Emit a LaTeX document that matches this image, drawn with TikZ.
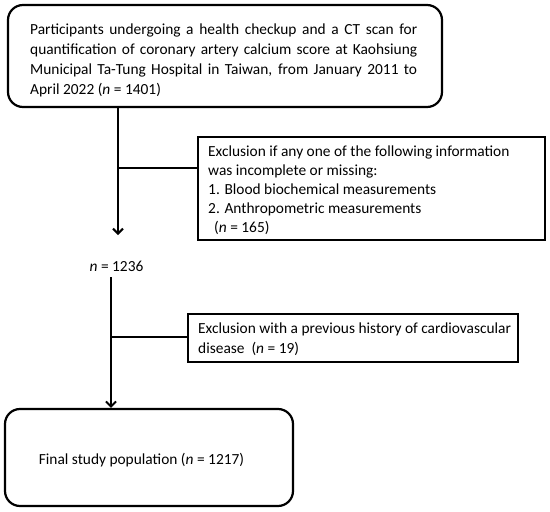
\documentclass[tikz,border=0pt]{standalone}
\usepackage{fontspec}
\setmainfont{Carlito}
\usetikzlibrary{arrows.meta}
\begin{document}
\begin{tikzpicture}[x=1pt,y=-1pt,
  font=\fontsize{15.4}{18.8}\selectfont,
  roundbox/.style={draw, line width=2.2pt, rounded corners=15pt, inner sep=0pt, anchor=center},
  exbox/.style={draw, line width=1.2pt, inner sep=0pt, anchor=center},
  conn/.style={line width=2pt},
  arr/.style={line width=2pt, -{Straight Barb[length=5pt,width=10pt,line width=2pt]}}]
\useasboundingbox (0,0) rectangle (550,512);
\node[roundbox, minimum width=434pt, minimum height=102pt] (top) at (225,56) {};
\node[anchor=north west, inner sep=0pt, align=left, font=\fontsize{15.4}{19.8}\selectfont] (toptext) at (30,24) {%
\makebox[387pt][s]{Participants undergoing a health checkup and a CT scan for}\\
\makebox[387pt][s]{quantification of coronary artery calcium score at Kaohsiung}\\
\makebox[387pt][s]{Municipal Ta-Tung Hospital in Taiwan, from January 2011 to}\\
April 2022 (\textit{n} = 1401)};
\node[exbox, minimum width=347pt, minimum height=103pt] (ex1) at (371.5,188.5) {};
\node[anchor=west, inner sep=0pt, align=left, font=\fontsize{15.4}{19}\selectfont] (ex1text) at (208,190) {%
Exclusion if any one of the following information\\
was incomplete or missing:\\
1. Blood biochemical measurements\\
2. Anthropometric measurements\\
\hspace*{6pt}(\textit{n} = 165)};
\node[inner sep=0pt] (n1236) at (116.5,266) {\textit{n} = 1236};
\node[exbox, minimum width=330pt, minimum height=48pt] (ex2) at (353,338) {};
\node[anchor=west, inner sep=0pt, align=left, font=\fontsize{15.4}{20}\selectfont] (ex2text) at (198,339.5) {%
Exclusion with a previous history of cardiovascular\\
disease\ \ (\textit{n} = 19)};
\node[roundbox, minimum width=288pt, minimum height=97pt] (final) at (149,457.5) {};
\node[inner sep=0pt] (finaltext) at (141.5,460) {Final study population (\textit{n} = 1217)};
\coordinate (b1) at (118,168);
\coordinate (t1) at (118,235);
\coordinate (s2) at (111,277);
\coordinate (b2) at (111,337);
\draw[arr] (top.south -| b1) -- (t1);
\draw[conn] (b1) -- (ex1.west |- b1);
\draw[arr] (s2) -- (final.north -| s2);
\draw[conn] (b2) -- (ex2.west |- b2);
\end{tikzpicture}
\end{document}
